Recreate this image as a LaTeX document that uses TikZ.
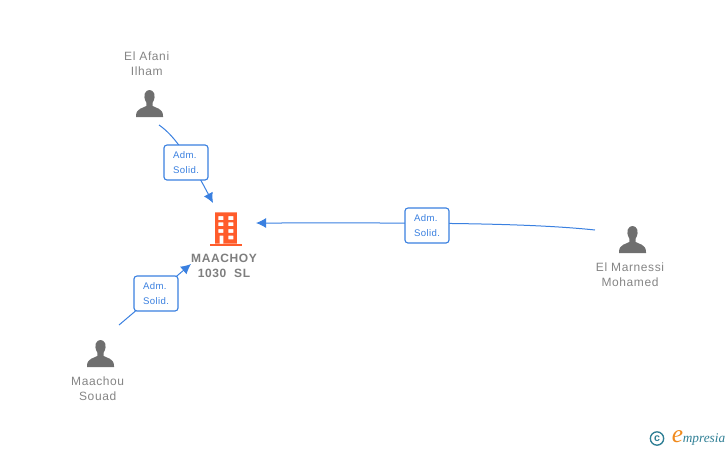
\documentclass[tikz,border=0pt]{standalone}
\usepackage{fontspec}
\setmainfont{Liberation Sans}
\newfontfamily\logofont{Liberation Serif}
\usetikzlibrary{arrows.meta}
\definecolor{edgeblue}{HTML}{3A80E0}
\definecolor{labelgray}{HTML}{858585}
\definecolor{icongray}{HTML}{6F6F6F}
\definecolor{bldorange}{HTML}{FF5C2B}
\definecolor{logoteal}{HTML}{2F7F95}
\definecolor{logoorange}{HTML}{F08A1D}
\tikzset{
  x=0.75pt,y=-0.75pt,
  person/.style={font=\fontsize{9}{11.25}\selectfont\addfontfeature{LetterSpace=5},text=labelgray,align=center,inner sep=0pt},
  company/.style={font=\fontsize{9}{11.25}\selectfont\bfseries\addfontfeature{LetterSpace=5},text=labelgray!95!black,align=center,inner sep=0pt},
  rolebox/.style={draw=edgeblue,fill=white,rounded corners=2.2pt,line width=0.85pt,minimum width=33pt,minimum height=26.2pt,inner xsep=5.6pt,inner ysep=0pt,align=left,text=edgeblue,font=\fontsize{7.2}{11.25}\selectfont\addfontfeature{LetterSpace=4}},
  link/.style={draw=edgeblue,line width=0.75pt},
  linkarrow/.style={link,-{Latex[length=7.5pt,width=7.5pt]}},
  iconperson/.pic={
    \fill[icongray] (-3.2,-7.5) .. controls (-7.5,-15) and (-4,-20) .. (0,-20) .. controls (4,-20) and (7.5,-15) .. (3.2,-7.5) -- (3.2,-4) .. controls (6,-2) and (13.5,-2) .. (13.5,6) -- (13.5,7) -- (-13.5,7) -- (-13.5,6) .. controls (-13.5,-2) and (-6,-2) .. (-3.2,-4) -- cycle;
  }
}
\begin{document}
\begin{tikzpicture}
\useasboundingbox (0,0) rectangle (728,450);
% icons
\pic at (149.5,110) {iconperson};
\pic at (100.5,360) {iconperson};
\pic at (632.5,246) {iconperson};
% building
\fill[bldorange,even odd rule] (215,212.3) rectangle (236.8,243.5)
  (218.3,216) rectangle (223.3,220) (228.3,216) rectangle (233.3,220)
  (218.3,222.4) rectangle (223.3,226.2) (228.3,222.4) rectangle (233.3,226.2)
  (218.3,229) rectangle (223.3,232.8) (228.3,229) rectangle (233.3,232.8)
  (219.5,235.7) rectangle (223.3,243.5) (228.3,235.7) rectangle (233.3,239.4);
\fill[bldorange] (210,243.5) rectangle (242,246);
% labels
\node[person] (afani) at (146.7,64) {El Afani\\Ilham};
\node[person] (marnessi) at (630,274.5) {El Marnessi\\Mohamed};
\node[person] (souad) at (97.7,388.5) {Maachou\\Souad};
\node[company] (maachoy) at (224,266) {MAACHOY\\1030\ \ SL};
% connector anchors
\coordinate (afaniend) at (159,125);
\coordinate (afanitip) at (213,203);
\coordinate (souadend) at (119,325);
\coordinate (souadtip) at (191,264);
\coordinate (marnessiend) at (595,230);
\coordinate (marnessitip) at (256,223);
% connectors
\path[linkarrow] (afaniend) .. controls (172,134) and (185,150) .. (afanitip);
\path[linkarrow] (souadend) -- (souadtip);
\path[linkarrow] (marnessiend) .. controls (520,222) and (400,223) .. (marnessitip);
% boxes
\node[rolebox] (boxa) at (186,162.5) {Adm.\\Solid.};
\node[rolebox] (boxb) at (156,293.5) {Adm.\\Solid.};
\node[rolebox] (boxc) at (427,225.5) {Adm.\\Solid.};
% logo
\node[circle,draw=logoteal,line width=1pt,minimum size=10pt,inner sep=0pt,text=logoteal,font=\fontsize{8}{8}\selectfont\bfseries] (copy) at (657,438.5) {c};
\node[inner sep=0pt,text=logoorange,font=\logofont\fontsize{19}{19}\selectfont\itshape] (loge) at (677.5,436.5) {e};
\node[inner sep=0pt,text=logoteal,anchor=west,font=\logofont\fontsize{10}{10}\selectfont\itshape] (logo) at (682.5,439) {mpresia};
\end{tikzpicture}
\end{document}
